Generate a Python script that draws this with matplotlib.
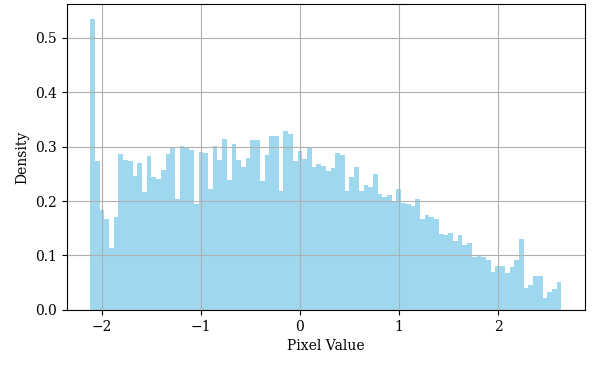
import numpy as np
import matplotlib
matplotlib.use("Agg")
import matplotlib.pyplot as plt

plt.rcParams['font.family'] = ['DejaVu Serif']

# histogram range (normalized pixel values) and number of bins
x_min = -2.1179
x_max = 2.64
n_bins = 100

density = [
    0.535, 0.274, 0.184, 0.168, 0.113, 0.171, 0.287, 0.276, 0.273, 0.247,
    0.271, 0.217, 0.283, 0.245, 0.240, 0.257, 0.287, 0.298, 0.204, 0.301,
    0.298, 0.294, 0.195, 0.290, 0.289, 0.222, 0.301, 0.276, 0.314, 0.239,
    0.305, 0.276, 0.262, 0.280, 0.312, 0.312, 0.237, 0.285, 0.320, 0.320,
    0.218, 0.329, 0.324, 0.274, 0.292, 0.278, 0.298, 0.262, 0.268, 0.265,
    0.256, 0.261, 0.289, 0.285, 0.219, 0.244, 0.262, 0.219, 0.229, 0.226,
    0.249, 0.213, 0.207, 0.211, 0.199, 0.223, 0.197, 0.195, 0.191, 0.203,
    0.167, 0.174, 0.170, 0.168, 0.140, 0.138, 0.142, 0.127, 0.137, 0.120,
    0.123, 0.098, 0.099, 0.098, 0.092, 0.070, 0.081, 0.081, 0.067, 0.079,
    0.092, 0.130, 0.040, 0.045, 0.062, 0.062, 0.022, 0.032, 0.039, 0.051,
]

edges = np.linspace(x_min, x_max, n_bins + 1)

fig = plt.figure(figsize=(6, 3.68), dpi=100)
ax = fig.add_axes([0.111, 0.158, 0.864, 0.830])
ax.hist(edges[:-1], bins=edges, weights=density, color='skyblue', alpha=0.8)
ax.set_xlabel('Pixel Value')
ax.set_ylabel('Density')
ax.grid(True)
fig.savefig('out.png', dpi=100)
